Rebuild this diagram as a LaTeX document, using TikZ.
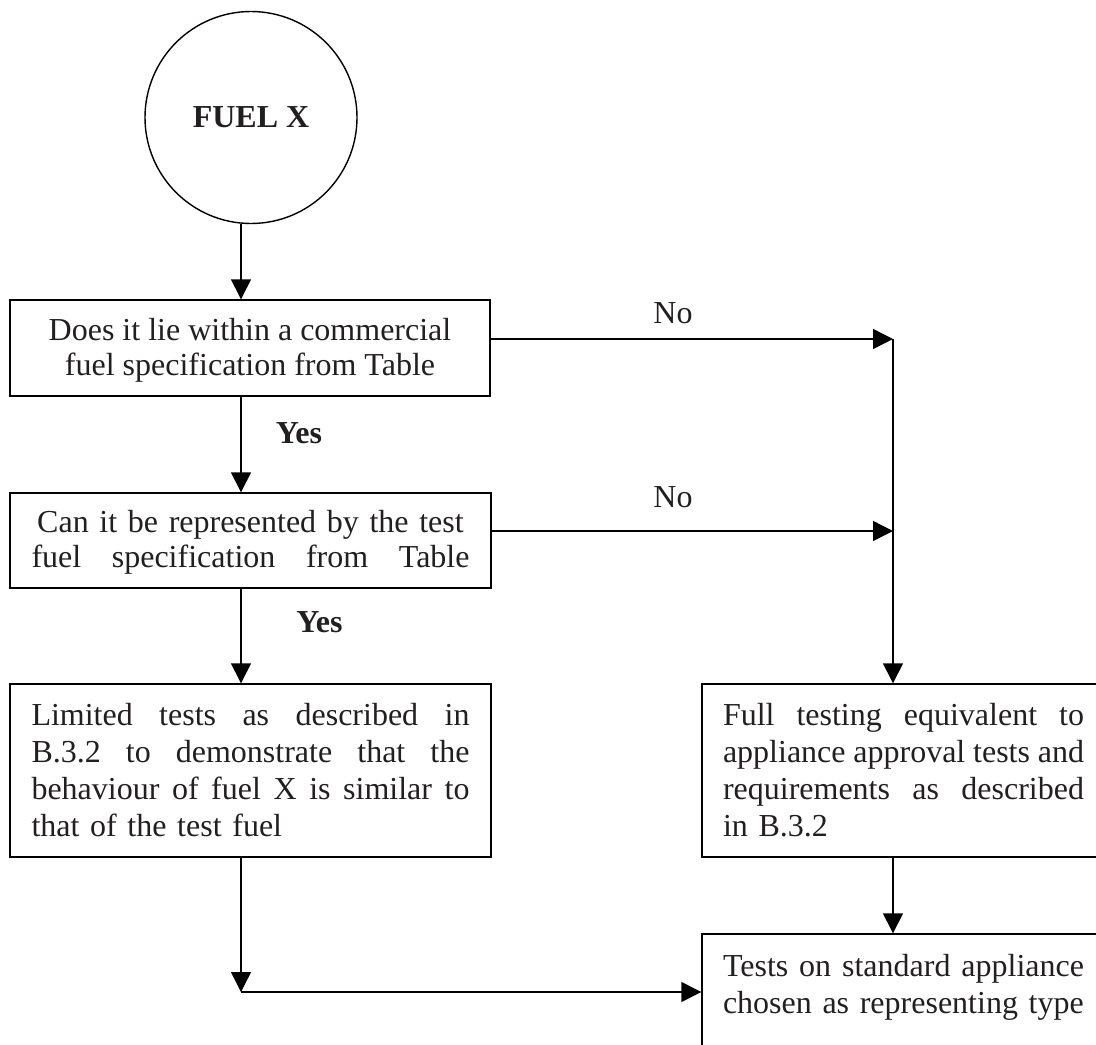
\documentclass[tikz,border=0pt]{standalone}
\usepackage{fontspec}
\setmainfont{Liberation Serif}
\usetikzlibrary{arrows.meta}
\definecolor{ink}{RGB}{35,31,32}
\newcommand{\wideline}[2]{\leavevmode\hbox to #1{#2}}
\begin{document}
\begin{tikzpicture}[x=1pt,y=-1pt,
  box/.style={draw, line width=1.4pt, rectangle, inner sep=0pt, text=ink, font=\fontsize{32}{37}\selectfont},
  arr/.style={line width=1.4pt, -{Triangle[length=20pt,width=20pt]}},
  lbl/.style={font=\fontsize{32}{37}\selectfont, anchor=base, inner sep=0pt, text=ink}]
\useasboundingbox (0,0) rectangle (1096,1045);
\clip (0,0) rectangle (1096,1045);
\fill[white] (0,0) rectangle (1096,1045);

% nodes
\node[draw, circle, line width=1.4pt, minimum size=212pt, inner sep=0pt, text=ink,
      font=\fontsize{32}{37}\selectfont\bfseries] (fuel) at (251,117.5) {FUEL X};

\node[box, minimum width=480pt, minimum height=96pt, align=center,
      font=\fontsize{32}{35}\selectfont] (box1) at (250,348)
  {\rule{0pt}{26pt}Does it lie within a commercial\\fuel specification from Table};

\node[box, minimum width=481pt, minimum height=95pt, text width=438pt, align=center,
      font=\fontsize{32}{35}\selectfont] (box2) at (250.5,540.5)
  {\rule{0pt}{26pt}Can it be represented by the test\\\wideline{438pt}{fuel\hfill specification\hfill from\hfill Table}};

\node[box, minimum width=481pt, minimum height=173pt, text width=438pt, align=left] (box3) at (250.5,770.5)
  {\wideline{438pt}{Limited\hfill tests\hfill as\hfill described\hfill in}\\
   \wideline{438pt}{B.3.2\hfill to\hfill demonstrate\hfill that\hfill the}\\
   \wideline{438pt}{behaviour\hfill of\hfill fuel\hfill X\hfill is\hfill similar\hfill to}\\
   that of the test fuel};

\node[box, minimum width=403pt, minimum height=173pt, text width=361pt, align=left] (box4) at (903.5,770.5)
  {\wideline{361pt}{Full\hfill testing\hfill equivalent\hfill to}\\
   \wideline{361pt}{appliance\hfill approval\hfill tests\hfill and}\\
   \wideline{361pt}{requirements\hfill as\hfill described}\\
   in B.3.2};

\node[box, minimum width=403pt, minimum height=136pt, text width=361pt, align=left] (box5) at (903.5,1002)
  {\wideline{361pt}{Tests\hfill on\hfill standard\hfill appliance}\\
   chosen as representing type\\
   \mbox{}};

% labels
\node[lbl, font=\fontsize{32}{37}\selectfont\bfseries] (yes1) at (299,443) {Yes};
\node[lbl, font=\fontsize{32}{37}\selectfont\bfseries] (yes2) at (319.5,632) {Yes};
\node[lbl] (no1) at (673,323) {No};
\node[lbl] (no2) at (673,507) {No};

% connectors
\coordinate (ax) at (241,0);
\coordinate (j3) at (241,992);
\coordinate (n1) at (893,339);
\coordinate (n2) at (893,531);

\draw[arr] (fuel.south -| ax) -- (box1.north -| ax);
\draw[arr] (box1.south -| ax) -- (box2.north -| ax);
\draw[arr] (box2.south -| ax) -- (box3.north -| ax);
\draw[arr] (box3.south -| ax) -- (j3);
\draw[arr] (j3) -- (j3 -| box5.west);
\draw[arr] (n1 -| box1.east) -- (n1);
\draw[arr] (n2 -| box2.east) -- (n2);
\draw[arr] (n1) -- (n1 |- box4.north);
\draw[arr] (box4.south -| n1) -- (box5.north -| n1);
\end{tikzpicture}
\end{document}
